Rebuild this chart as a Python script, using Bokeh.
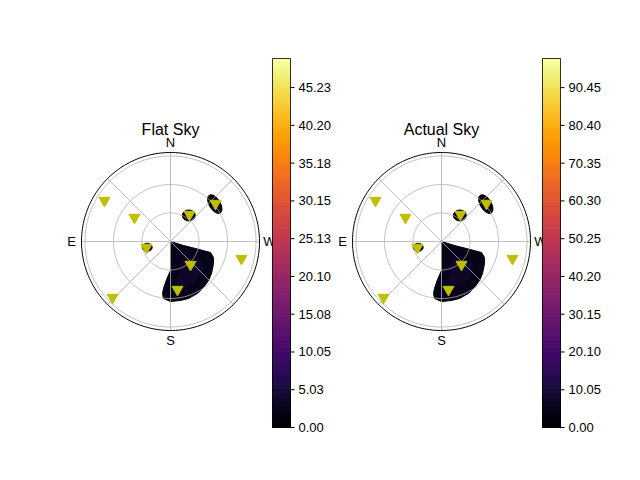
import numpy as np
from bokeh.plotting import figure
from bokeh.models import Range1d
from bokeh.palettes import Inferno256
from bokeh.embed import file_html
from bokeh.resources import INLINE

titles = ["Flat Sky", "Actual Sky"]
centers = [(170, 241), (441, 241)]
cbar_x = [272, 542]
cbar_max = [49.1, 98.2]
cbar_ticks = [[0, 5.03, 10.05, 15.08, 20.10, 25.13, 30.15, 35.18, 40.20, 45.23],
              [0, 10.05, 20.10, 30.15, 40.20, 50.25, 60.30, 70.35, 80.40, 90.45]]
# sun markers: azimuth (deg, N=0, E=90) and zenith angle (deg)
sun_az = [58.2, 56.3, 104, 324.9, 310.2, 256.5, 221, 188.3, 134]
sun_zen = [81.8, 45.6, 26.0, 34.7, 62.0, 76.8, 32.1, 51.1, 84.8]
# bright blob outline in sky plane (east, north) degrees
blob_e = [0, -13.7, -26.3, -42.1, -45.3, -45.3, -43.2, -40.0, -34.7, -28.4, -18.9, -10.5, 0, 7.4, 8.4, 7.4, 4.2, 0]
blob_n = [0, -4.2, -7.4, -11.6, -16.8, -23.2, -33.7, -41.1, -48.4, -54.7, -60.0, -62.1, -63.2, -60.0, -54.7, -49.5, -40.0, -30.5]
ell_az = [104, 324.9, 310.2]
ell_zen = [25.3, 33.5, 61.0]
ell_w = [10, 13, 11]
ell_h = [8, 11, 21]
ell_ang = [0, 0, 0.55]

S = 0.95  # px per degree
p = figure(width=624, height=464, output_backend="svg", toolbar_location=None,
           x_range=Range1d(0, 624), y_range=Range1d(464, 0), min_border=0)
p.axis.visible = False
p.grid.visible = False
p.outline_line_color = None

def pol(cx, cy, az, zen):
    az = np.radians(np.asarray(az, float)); zen = np.asarray(zen, float)
    return cx - zen * S * np.sin(az), cy - zen * S * np.cos(az)

t = np.linspace(0, 2 * np.pi, 200)
for k, (cx, cy) in enumerate(centers):
    bx = cx - np.array(blob_e) * S; by = cy - np.array(blob_n) * S
    p.patch(bx, by, fill_color="#07041a", line_color="#000000", line_width=1)
    p.patch(cx + (bx - cx) * 0.5 + 10, cy + (by - cy) * 0.5 + 15, fill_color="#1a0c3c",
            fill_alpha=0.4, line_color=None)
    ex, ey = pol(cx, cy, ell_az, ell_zen)
    p.ellipse(ex, ey, width=ell_w, height=ell_h, angle=ell_ang, fill_color="#05030f",
              line_color="#000000")
    for r in [30, 60, 90]:
        p.line(cx + r * S * np.cos(t), cy + r * S * np.sin(t), line_color="#b0b0b0", line_width=0.8)
    for a in range(0, 360, 45):
        lx, ly = pol(cx, cy, [a], [93])
        p.line([cx, lx[0]], [cy, ly[0]], line_color="#b0b0b0", line_width=0.8)
    p.line(cx + 89 * np.cos(t), cy + 89 * np.sin(t), line_color="black", line_width=1)
    for lab, a in zip(["N", "E", "S", "W"], [0, 90, 180, 270]):
        lx, ly = pol(cx, cy, [a], [104])
        p.text(lx, ly, text=[lab], text_align="center", text_baseline="middle",
               text_font_size="13px", text_color="black")
    p.text([cx], [129], text=[titles[k]], text_align="center", text_baseline="middle",
           text_font_size="16px")
    sx, sy = pol(cx, cy, sun_az, sun_zen)
    p.scatter(sx, sy, marker="inverted_triangle", size=11, fill_color="#bfbf00",
              line_color="#bfbf00")
    x0 = cbar_x[k]; y0, y1 = 427, 58; vmax = cbar_max[k]
    n = 256
    vals = np.linspace(0, vmax, n + 1)
    ys = y0 - vals / vmax * (y0 - y1)
    p.quad(left=x0, right=x0 + 18, bottom=ys[:-1], top=ys[1:], fill_color=list(Inferno256),
           line_color=list(Inferno256), line_width=1)
    p.quad(left=[x0], right=[x0 + 18], bottom=[y0], top=[y1], fill_color=None, line_color="black",
           line_width=0.8)
    tk = np.array(cbar_ticks[k]); ty = y0 - tk / vmax * (y0 - y1)
    p.segment(x0 + 18, ty, x0 + 22, ty, line_color="black")
    p.text(x0 + 26, ty, text=["%.2f" % v for v in tk], text_baseline="middle",
           text_font_size="13px")

open("out.html", "w").write(file_html(p, INLINE))
